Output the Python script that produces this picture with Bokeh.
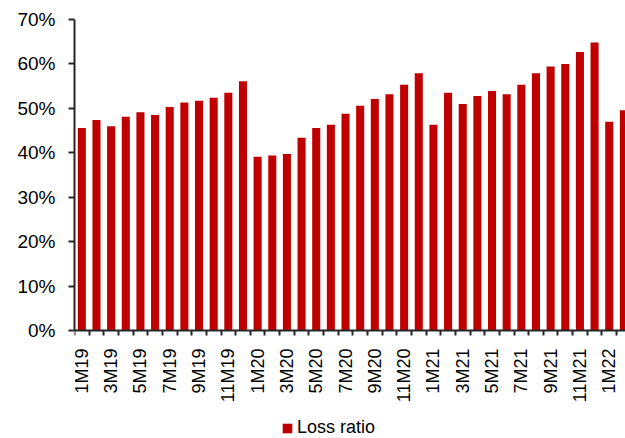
import math
from bokeh.plotting import figure
from bokeh.models import Range1d, FixedTicker, Legend, LegendItem, ColumnDataSource
from bokeh.embed import file_html
from bokeh.resources import INLINE

months = ["1M19", "2M19", "3M19", "4M19", "5M19", "6M19", "7M19", "8M19", "9M19", "10M19", "11M19", "12M19",
          "1M20", "2M20", "3M20", "4M20", "5M20", "6M20", "7M20", "8M20", "9M20", "10M20", "11M20", "12M20",
          "1M21", "2M21", "3M21", "4M21", "5M21", "6M21", "7M21", "8M21", "9M21", "10M21", "11M21", "12M21",
          "1M22", "2M22"]
loss_ratio = [45.6, 47.4, 46.0, 48.1, 49.1, 48.5, 50.3, 51.3, 51.7, 52.4, 53.5, 56.1,
              39.1, 39.4, 39.7, 43.4, 45.6, 46.3, 48.8, 50.6, 52.1, 53.2, 55.3, 57.9,
              46.3, 53.5, 51.0, 52.8, 53.9, 53.2, 55.3, 57.9, 59.4, 60.0, 62.7, 64.8,
              47.0, 49.6]
y_ticks = [0, 10, 20, 30, 40, 50, 60, 70]
y_tick_labels = ["0%", "10%", "20%", "30%", "40%", "50%", "60%", "70%"]
series_name = "Loss ratio"

idx = list(range(len(months)))
src = ColumnDataSource(data=dict(x=idx, top=loss_ratio, label=months))

FONT = "Liberation Sans"
BAR = "#C00000"
AX = "#262626"

W, H = 625, 438
TOP, LEFT = 19, 74
AXIS_Y = 330  # screen row of the 0% baseline

# frame spans full height; the x axis is pinned at y=0 so the space below holds labels + legend
px_per_unit = (AXIS_Y - TOP) / 70.0
y_min = -(H - AXIS_Y) / px_per_unit

p = figure(width=W, height=H, output_backend="svg", toolbar_location=None,
           x_range=Range1d(-0.5, -0.5 + (W - LEFT) / 14.65), y_range=Range1d(y_min, 70),
           min_border_left=LEFT, min_border_right=0, min_border_top=TOP, min_border_bottom=0)
p.outline_line_color = None
p.xgrid.visible = False
p.ygrid.visible = False

bars = p.vbar(x="x", top="top", width=0.55, bottom=0, source=src, fill_color=BAR, line_color=None)

# y axis
p.yaxis.ticker = FixedTicker(ticks=y_ticks)
p.yaxis.bounds = (0, 70)
p.yaxis.major_label_overrides = {t: l for t, l in zip(y_ticks, y_tick_labels)}
p.yaxis.major_tick_out = 6
p.yaxis.major_tick_in = 0
p.yaxis.minor_tick_out = 0
p.yaxis.minor_tick_in = 0
p.yaxis.major_tick_line_width = 2
p.yaxis.major_tick_line_color = AX
p.yaxis.axis_line_width = 2
p.yaxis.axis_line_color = AX
p.yaxis.major_label_standoff = 13
p.yaxis.major_label_text_font = FONT
p.yaxis.major_label_text_font_size = "19px"
p.yaxis.major_label_text_color = "#000000"

# x axis
label_pos = idx[::2]
p.xaxis.fixed_location = 0
p.xaxis.ticker = FixedTicker(ticks=label_pos, minor_ticks=[i - 0.5 for i in range(len(months) + 1)])
p.xaxis.major_label_overrides = {i: months[i] for i in label_pos}
p.xaxis.major_label_orientation = math.pi / 2
p.xaxis.major_tick_out = 0
p.xaxis.major_tick_in = 0
p.xaxis.minor_tick_out = 5
p.xaxis.minor_tick_in = 0
p.xaxis.minor_tick_line_width = 2
p.xaxis.minor_tick_line_color = AX
p.xaxis.axis_line_width = 2
p.xaxis.axis_line_color = AX
p.xaxis.major_label_standoff = 13
p.xaxis.major_label_text_font = FONT
p.xaxis.major_label_text_font_size = "18px"
p.xaxis.major_label_text_color = "#000000"

legend = Legend(items=[LegendItem(label=series_name, renderers=[bars])],
                location=(207, 0), orientation="horizontal",
                glyph_width=12, glyph_height=12, label_standoff=4,
                label_text_font=FONT, label_text_font_size="18px", label_text_color="#000000",
                border_line_color=None, background_fill_alpha=0,
                padding=0, margin=0, spacing=0)
p.add_layout(legend, "center")

open("out.html", "w").write(file_html(p, INLINE))
